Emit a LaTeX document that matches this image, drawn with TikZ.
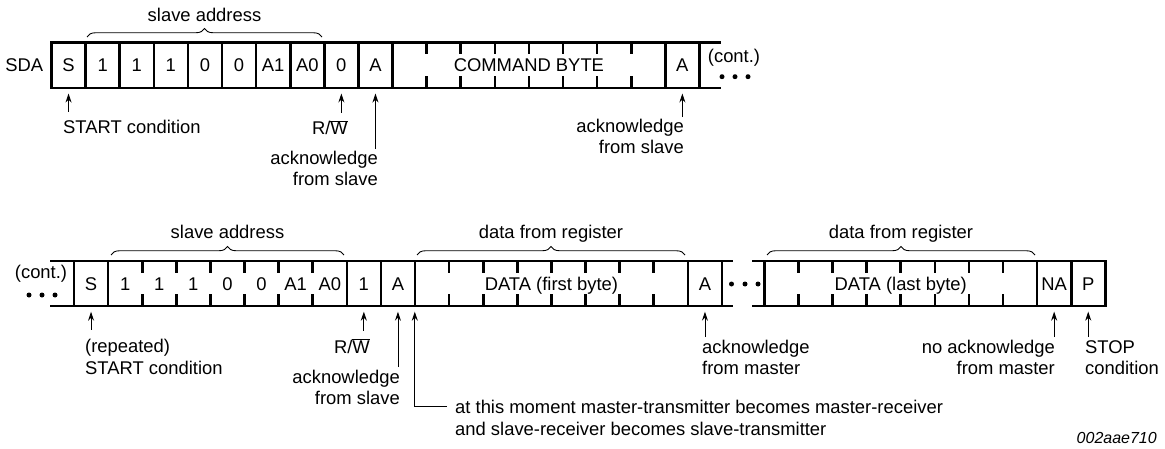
\documentclass[tikz,border=0pt]{standalone}
\usepackage{fontspec}
\setmainfont{Liberation Sans}
\usetikzlibrary{arrows.meta,decorations.pathreplacing,calc}
\begin{document}
\begin{tikzpicture}[x=1pt,y=-1pt,
  txt/.style={font=\fontsize{18.4}{22}\selectfont, inner sep=0pt, text height=13.2pt, text depth=0pt},
  cell/.style={txt, minimum height=45pt, minimum width=34.1pt},
  wide/.style={cell, minimum width=272.8pt},
  frame/.style={line width=2.6pt, line cap=rect},
  arr/.style={line width=0.9pt, -{Stealth[length=9pt,width=6pt]}, shorten >=5.5pt},
  far/.style={shorten <=9pt},
  near/.style={shorten <=2.5pt},
  brc/.style={line width=0.9pt, decorate, decoration={brace, amplitude=8.5pt}},
  dot/.style={circle, fill, inner sep=0pt, minimum size=5pt}
]
\useasboundingbox (0,0) rectangle (1165,449);

% ---------------- top row ----------------
\draw[frame] (51.5,42.7) -- (720,42.7) (51.5,88) -- (720,88);
\foreach \k in {0,...,10,18,19}
  \draw[frame] ({51.5+\k*34.1},42.7) -- ({51.5+\k*34.1},88);
\foreach \k in {11,...,17}
  \draw[frame] ({51.5+\k*34.1},42.7) -- ++(0,10.5) ({51.5+\k*34.1},88) -- ++(0,-10.5);

\node[txt, anchor=base east] (sda) at (43.3,71.7) {SDA};
\node[cell] (tS) at (68.55,65.35) {S};
\foreach \t [count=\i] in {1,1,1,0,0,A1,A0}
  \node[cell] (tb\i) at ({51.5+(\i+0.5)*34.1},65.35) {\t};
\node[cell] (tRW) at (341.35,65.35) {0};
\node[cell] (tA1) at (375.45,65.35) {A};
\node[wide] (tCmd) at (528.9,65.35) {COMMAND BYTE};
\node[cell] (tA2) at (682.35,65.35) {A};
\node[txt, anchor=base] (tcont) at (734,63) {(cont.)};
\node[dot] (td1) at (722,76.7) {};
\node[dot] (td2) at (735,76.7) {};
\node[dot] (td3) at (748,76.7) {};

\draw[brc] (87,37) -- (322,37);
\node[txt, anchor=base] (tsa) at (204.5,21.7) {slave address};

\node[txt, anchor=base west] (lStart) at (63,134) {START condition};
\node[txt, anchor=base east] (lRW) at (348,135) {R/$\overline{\hbox{W}}$};
\node[txt, anchor=base east] (lAck1) at (378,165) {acknowledge};
\node[txt, anchor=base east] (lAck1b) at (378,186) {from slave};
\node[txt, anchor=base east] (lAck2) at (684,133) {acknowledge};
\node[txt, anchor=base east] (lAck2b) at (684,154) {from slave};

\draw[arr, far] (tS.south |- lStart.north) -- (tS.south);
\draw[arr, far] (tRW.south |- lRW.north) -- (tRW.south);
\draw[arr, near] (tA1.south |- lAck1.north) -- (tA1.south);
\draw[arr, near] (tA2.south |- lAck2.north) -- (tA2.south);

% ---------------- bottom row ----------------
\draw[frame] (51.7,261) -- (731.7,261) (51.7,306) -- (731.7,306)
             (753.3,261) -- (1105.3,261) (753.3,306) -- (1105.3,306);
\foreach \k in {0,1,8,9,10,18,19}
  \draw[frame] ({74+\k*34.1},261) -- ({74+\k*34.1},306);
\foreach \k in {2,...,7,11,12,...,17}
  \draw[frame] ({74+\k*34.1},261) -- ++(0,10.5) ({74+\k*34.1},306) -- ++(0,-10.5);
\foreach \k in {0,8,9,10}
  \draw[frame] ({764.3+\k*34.1},261) -- ({764.3+\k*34.1},306);
\foreach \k in {1,...,7}
  \draw[frame] ({764.3+\k*34.1},261) -- ++(0,10.5) ({764.3+\k*34.1},306) -- ++(0,-10.5);

\node[txt, anchor=base] (bcont) at (41,279) {(cont.)};
\node[dot] (bd1) at (29,295) {};
\node[dot] (bd2) at (42,295) {};
\node[dot] (bd3) at (55,295) {};

\node[cell] (bS) at (91.05,283.5) {S};
\foreach \t [count=\i] in {1,1,1,0,0,A1,A0}
  \node[cell] (bb\i) at ({74+(\i+0.5)*34.1},283.5) {\t};
\node[cell] (bRW) at (363.85,283.5) {1};
\node[cell] (bA1) at (397.95,283.5) {A};
\node[wide] (bD1) at (551.4,283.5) {DATA (first byte)};
\node[cell] (bA2) at (704.95,283.5) {A};
\node[dot] (md1) at (731.5,284) {};
\node[dot] (md2) at (745,284) {};
\node[dot] (md3) at (758,284) {};
\node[wide] (bD2) at (900.7,283.5) {DATA (last byte)};
\node[cell] (bNA) at (1054.15,283.5) {NA};
\node[cell] (bP) at (1088.25,283.5) {P};

\draw[brc] (111,255) -- (344,255);
\node[txt, anchor=base] (bsa) at (227.5,238.5) {slave address};
\draw[brc] (417,255) -- (685,255);
\node[txt, anchor=base] (bdr1) at (551,238.5) {data from register};
\draw[brc] (767,255) -- (1035,255);
\node[txt, anchor=base] (bdr2) at (901,238.5) {data from register};

\node[txt, anchor=base west] (lRep) at (85,352) {(repeated)};
\node[txt, anchor=base west] (lRepb) at (85,374) {START condition};
\node[txt, anchor=base east] (lRW2) at (370,353) {R/$\overline{\hbox{W}}$};
\node[txt, anchor=base east] (lAck3) at (400,383) {acknowledge};
\node[txt, anchor=base east] (lAck3b) at (400,404) {from slave};
\node[txt, anchor=base west] (lMom) at (455,413.5) {at this moment master-transmitter becomes master-receiver};
\node[txt, anchor=base west] (lMomb) at (455,435.5) {and slave-receiver becomes slave-transmitter};
\node[txt, anchor=base west] (lAck4) at (702,353) {acknowledge};
\node[txt, anchor=base west] (lAck4b) at (702,374) {from master};
\node[txt, anchor=base east] (lNA) at (1055,353) {no acknowledge};
\node[txt, anchor=base east] (lNAb) at (1055,374) {from master};
\node[txt, anchor=base west] (lP) at (1085,353) {STOP};
\node[txt, anchor=base west] (lPb) at (1085,374) {condition};
\node[txt, anchor=base east, font=\fontsize{16}{19}\selectfont\itshape] (code) at (1157,443.5) {002aae710};

\draw[arr, far] (bS.south |- lRep.north) -- (bS.south);
\draw[arr, far] (bRW.south |- lRW2.north) -- (bRW.south);
\draw[arr, near] (bA1.south |- lAck3.north) -- (bA1.south);
\draw[arr, shorten <=8pt] (lMom.west) -| (bD1.south west);
\draw[arr, near] (bA2.south |- lAck4.north) -- (bA2.south);
\draw[arr, near] (bNA.south |- lNA.north) -- (bNA.south);
\draw[arr, near] (bP.south |- lP.north) -- (bP.south);
\end{tikzpicture}
\end{document}
